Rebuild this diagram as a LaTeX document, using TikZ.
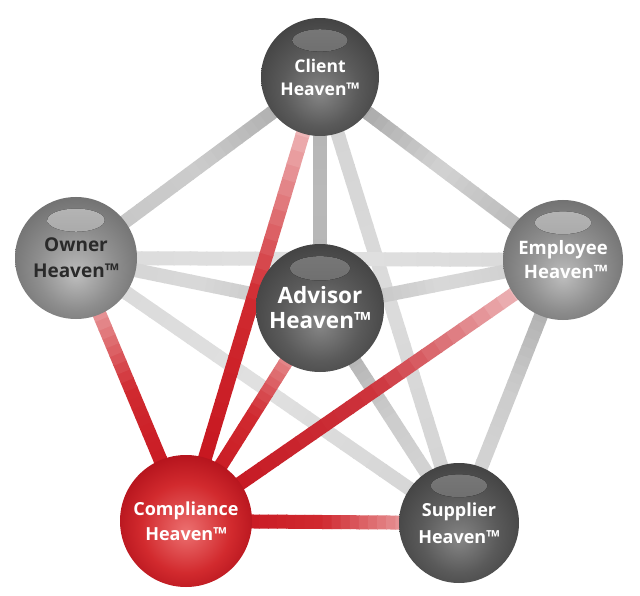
\documentclass[tikz,border=0pt]{standalone}
\usepackage{fontspec}
\setmainfont{Open Sans}
\usetikzlibrary{calc}
\pgfdeclarelayer{bg}
\pgfsetlayers{bg,main}
\definecolor{dk1}{HTML}{858585}
\definecolor{dk2}{HTML}{5A5A5A}
\definecolor{dk3}{HTML}{404040}
\definecolor{md1}{HTML}{BDBDBD}
\definecolor{md2}{HTML}{8E8E8E}
\definecolor{md3}{HTML}{6E6E6E}
\definecolor{rd1}{HTML}{EC7070}
\definecolor{rd2}{HTML}{D22A2E}
\definecolor{rd3}{HTML}{B0101A}
\definecolor{dkh1}{HTML}{7A7A7A}
\definecolor{dkh2}{HTML}{565656}
\definecolor{mdh1}{HTML}{B8B8B8}
\definecolor{mdh2}{HTML}{8A8A8A}
\definecolor{redA}{HTML}{C4101A}
\definecolor{redB}{HTML}{D02A30}
\definecolor{redC}{HTML}{F7E0E0}
\definecolor{darktext}{HTML}{2A2A2A}
\pgfdeclareradialshading{darkball}{\pgfpoint{0bp}{-7bp}}{color(0bp)=(dk1); color(16bp)=(dk2); color(30bp)=(dk3); color(50bp)=(dk3)}
\pgfdeclareradialshading{midball}{\pgfpoint{0bp}{-7bp}}{color(0bp)=(md1); color(16bp)=(md2); color(30bp)=(md3); color(50bp)=(md3)}
\pgfdeclareradialshading{redball}{\pgfpoint{0bp}{-4bp}}{color(0bp)=(rd1); color(17bp)=(rd2); color(29bp)=(rd3); color(50bp)=(rd3)}
\tikzset{
  sphere/.style={circle, inner sep=0pt, outer sep=0pt, align=center, minimum size={2*#1}},
  glossdark/.style={path picture={\fill[top color=dkh1, bottom color=dkh2] ([yshift={0.62*#1*1pt}]path picture bounding box.center) ellipse [x radius={0.47*#1*1pt}, y radius={0.19*#1*1pt}];}},
  glossmid/.style={path picture={\fill[top color=mdh1, bottom color=mdh2] ([yshift={0.62*#1*1pt}]path picture bounding box.center) ellipse [x radius={0.47*#1*1pt}, y radius={0.19*#1*1pt}];}},
  darkball/.style={sphere=#1, shading=darkball, glossdark=#1, text=white},
  midball/.style={sphere=#1, shading=midball, glossmid=#1},
  redball/.style={sphere=#1, shading=redball, text=white},
  fs/.style 2 args={font=\bfseries\fontsize{#1}{#2}\selectfont},
  linkseg/.style={line width=14pt, line cap=butt},
}
\newcommand\linkbar[5]{%
  \colorlet{cA}{#3}\colorlet{cB}{#4}\colorlet{cC}{#5}%
  \foreach \i in {0,...,29}{%
    \pgfmathsetmacro\ta{\i/30}%
    \pgfmathsetmacro\tb{min(1,(\i+1.1)/30)}%
    \pgfmathsetmacro\tm{(\i+0.5)/30}%
    \ifdim\tm pt<0.5pt
      \pgfmathsetmacro\pc{200*\tm}\colorlet{segc}{cB!\pc!cA}%
    \else
      \pgfmathsetmacro\pc{200*(\tm-0.5)}\colorlet{segc}{cC!\pc!cB}%
    \fi
    \draw[linkseg, segc] ($(#1.center)!\ta!(#2.center)$) -- ($(#1.center)!\tb!(#2.center)$);
  }}
\begin{document}
\begin{tikzpicture}[x=1pt,y=-1pt]
\useasboundingbox (0,0) rectangle (640,596);
\node[darkball=59, fs={17.5}{23}] (client) at (320,77) {Client\\Heaven™};
\node[midball=61, text=darktext, fs={19}{26}] (owner) at (76,258) {Owner\\Heaven™};
\node[darkball=64, fs={22.5}{25}] (advisor) at (320,308) {Advisor\\Heaven™};
\node[midball=60, text=white, align=right, fs={18.5}{24}] (employee) at (563,260) {Employee\\Heaven™};
\node[redball=66, fs={18}{25}] (compliance) at (186,521) {Compliance\\Heaven™};
\node[darkball=60, fs={18}{27}] (supplier) at (459,523) {Supplier\\Heaven™};
\begin{pgfonlayer}{bg}
\fill[white] (0,0) rectangle (640,596);
\linkbar{client}{owner}{gray!75}{gray!40}{gray!45}
\linkbar{client}{employee}{gray!85}{gray!35}{gray!65}
\linkbar{client}{advisor}{gray!60}{gray!55}{gray!60}
\linkbar{client}{supplier}{gray!35}{gray!28}{gray!35}
\linkbar{owner}{employee}{gray!28}{gray!24}{gray!30}
\linkbar{owner}{advisor}{gray!35}{gray!30}{gray!50}
\linkbar{owner}{supplier}{gray!30}{gray!24}{gray!35}
\linkbar{employee}{advisor}{gray!40}{gray!30}{gray!55}
\linkbar{employee}{supplier}{gray!75}{gray!40}{gray!30}
\linkbar{advisor}{supplier}{gray!75}{gray!40}{gray!30}
\linkbar{compliance}{client}{redA}{redB}{redC}
\linkbar{compliance}{owner}{redA}{redB}{redC}
\linkbar{compliance}{advisor}{redA}{redB}{redC}
\linkbar{compliance}{employee}{redA}{redA!85!white}{redC}
\linkbar{compliance}{supplier}{redA}{redB}{redC}
\end{pgfonlayer}
\end{tikzpicture}
\end{document}
